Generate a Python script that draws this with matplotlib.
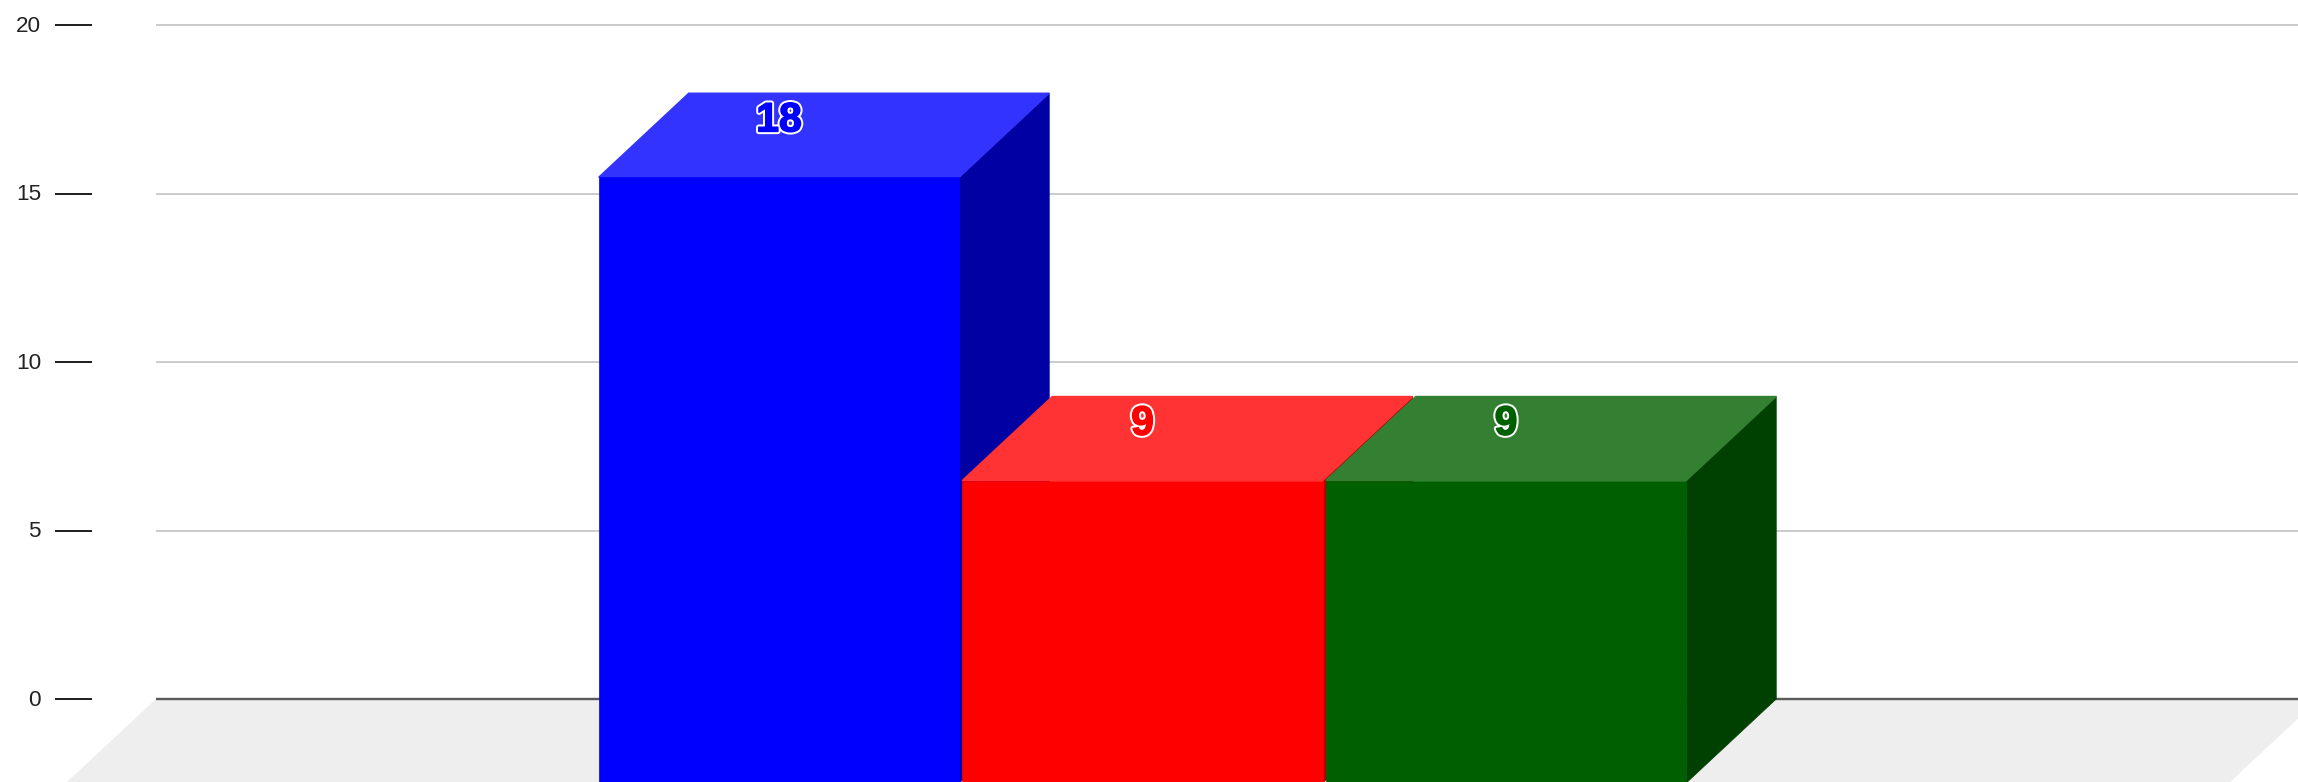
import matplotlib
matplotlib.use("Agg")
import matplotlib.pyplot as plt
import matplotlib.patheffects as pe
from matplotlib.patches import Polygon
from matplotlib.transforms import ScaledTranslation

# data
categories = ["A", "B", "C"]
values = [18, 9, 9]
front_colors = ["#0000ff", "#ff0000", "#006000"]
top_colors = ["#3333ff", "#ff3333", "#338033"]
side_colors = ["#0000a3", "#aa0000", "#004000"]
y_ticks = [0, 5, 10, 15, 20]

W, H = 2298, 782
DPI = 100
PX = 72 / DPI

# geometry in pixels of the reference
x0_px = 55            # tick start / axes left
zero_px = 699
top_px = 25
unit_px = (zero_px - top_px) / 20
step_px = 363.5
center0_px = 779
bar_w = 360.5 / step_px
dx = 90 / step_px
dy = 84 / unit_px
inset = 0.8 / unit_px   # bar tops sit just under the value line

fig = plt.figure(figsize=(W / DPI, H / DPI), dpi=DPI, facecolor="white")
ax = fig.add_axes([x0_px / W, 0, 1 - x0_px / W, 1])
ax.set_xlim((x0_px - center0_px) / step_px, (W - center0_px) / step_px)
ax.set_ylim(-(H - zero_px) / unit_px, (zero_px) / unit_px)
for s in ax.spines.values():
    s.set_visible(False)
ax.patch.set_visible(False)
ax.set_xticks([])
ax.set_yticks(y_ticks)
ax.tick_params(axis="y", direction="in", length=37 * PX, width=2 * PX, color="#222222",
               pad=14 * PX, labelsize=22.5 * PX, labelcolor="#222222")
shift = ScaledTranslation(0, 1.5 / DPI, fig.dpi_scale_trans)
for t in ax.get_yticklabels():
    t.set_fontfamily("Liberation Sans")
    t.set_transform(t.get_transform() + shift)

xl = ax.get_xlim()
back_left = (156 - center0_px) / step_px
back_right = (2319 - center0_px) / step_px

# floor
ax.add_patch(Polygon([(back_left, 0), (back_right, 0), (back_right - dx, -dy), (back_left - dx, -dy)],
                     closed=True, fc="#eeeeee", ec="none", zorder=1))
# gridlines and zero axis
for v in y_ticks:
    if v == 0:
        ax.plot([back_left, xl[1]], [v, v], color="#5a5a5a", lw=2.4 * PX, zorder=2, solid_capstyle="butt")
    else:
        ax.plot([back_left, xl[1]], [v, v], color="#cccccc", lw=2 * PX, zorder=2, solid_capstyle="butt")

# 3D bars
for i, (v, fc, tc, sc) in enumerate(zip(values, front_colors, top_colors, side_colors)):
    l, r = i - bar_w / 2, i + bar_w / 2
    h = v - inset
    z = 3 + i
    ax.add_patch(Polygon([(r, -dy), (r + dx, 0), (r + dx, h), (r, h - dy)], closed=True,
                         fc=sc, ec=sc, lw=0.5, zorder=z))
    ax.add_patch(Polygon([(l, h - dy), (r, h - dy), (r + dx, h), (l + dx, h)], closed=True,
                         fc=tc, ec=tc, lw=1.0, zorder=z + 0.1))
    ax.add_patch(Polygon([(l, -dy), (r, -dy), (r, h - dy), (l, h - dy)], closed=True,
                         fc=fc, ec=fc, lw=0.5, zorder=z + 0.2))

# labels
for i, (v, fc) in enumerate(zip(values, front_colors)):
    ax.text(i, v - 28 / unit_px, str(v), ha="center", va="center", color=fc, fontsize=41 * PX,
            fontweight="bold", family="Liberation Sans", zorder=10,
            path_effects=[pe.withStroke(linewidth=5.5 * PX, foreground="white"),
                          pe.withStroke(linewidth=1.5 * PX, foreground=fc)])

fig.savefig("out.png", dpi=DPI, facecolor="white")
